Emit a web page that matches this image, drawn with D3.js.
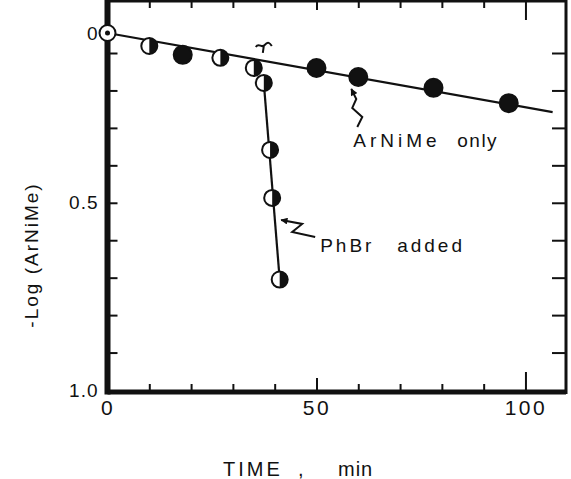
<!DOCTYPE html>
<html>
<head>
<meta charset="utf-8">
<script src="https://cdn.jsdelivr.net/npm/d3@7"></script>
<style>
body { margin: 0; background: #fff; }
text { font-family: "Liberation Sans", Arial, sans-serif; fill: #111; }
</style>
</head>
<body>
<script>
var width = 571, height = 479;

// ArNiMe only
var onlyTime = [0, 10, 18, 27, 35, 50, 60, 78, 96];
var onlyLog = [0, 0.065, 0.105, 0.113, 0.14, 0.14, 0.164, 0.193, 0.234];
var onlyMark = ["dot", "half", "full", "half", "half", "full", "full", "full", "full"];

// PhBr added
var addedTime = [37.4, 38.9, 39.4, 41.2];
var addedLog = [0.18, 0.359, 0.487, 0.705];
var addedMark = ["half", "half", "half", "half"];

// drawn lines
var onlyFitTime = [0, 106.5], onlyFitLog = [0, 0.258];
var addedFitTime = [37.4, 41.2], addedFitLog = [0.18, 0.705];

// ticks
var xTicks = [10, 20, 30, 40, 50, 60, 70, 80, 90, 100];
var yTicks = [0.1, 0.2, 0.3, 0.4, 0.5, 0.6, 0.7, 0.8, 0.9];
var xLabels = [0, 50, 100];
var yLabels = [0, 0.5, 1.0];
var yLabelText = ["0", "0.5", "1.0"];

var svg = d3.select("body")
    .append("svg")
    .attr("width", width)
    .attr("height", height);

var x = d3.scaleLinear().domain([0, 109.7]).range([107.5, 566]);
// scale is stretched between 0 and 0.1 like the original plot
var y = d3.scaleLinear().domain([0, 0.1, 1.0]).range([33, 53, 390]);

var left = x(0), right = x(109.7), top = 15, bottom = 392;

// frame
svg.append("line").attr("x1", left).attr("x2", left).attr("y1", top - 2.5).attr("y2", bottom + 2.5)
    .attr("stroke", "#111").attr("stroke-width", 6);
svg.append("line").attr("x1", left).attr("x2", right).attr("y1", top).attr("y2", top)
    .attr("stroke", "#111").attr("stroke-width", 5);
svg.append("line").attr("x1", left).attr("x2", right).attr("y1", bottom).attr("y2", bottom)
    .attr("stroke", "#111").attr("stroke-width", 5);
svg.append("line").attr("x1", right).attr("x2", right).attr("y1", top).attr("y2", bottom + 2)
    .attr("stroke", "#111").attr("stroke-width", 3);

function ticks(g) {
    g.select(".domain").remove();
    g.selectAll(".tick line").attr("stroke", "#111").attr("stroke-width", 2);
}

svg.append("g").attr("transform", "translate(0," + bottom + ")")
    .call(d3.axisBottom(x).tickValues(xTicks).tickSize(-8).tickFormat(""))
    .call(ticks)
    .selectAll(".tick line").attr("y2", function(d) { return d == 100 ? -20 : d == 50 ? -14 : -8; });

svg.append("g").attr("transform", "translate(0," + top + ")")
    .call(d3.axisTop(x).tickValues(xTicks).tickSize(-8).tickFormat(""))
    .call(ticks)
    .selectAll(".tick line").attr("y2", function(d) { return d == 100 ? 20 : d == 50 ? 10 : 8; });

svg.append("g").attr("transform", "translate(" + left + ",0)")
    .call(d3.axisLeft(y).tickValues(yTicks).tickSize(-10).tickFormat(""))
    .call(ticks);

svg.append("g").attr("transform", "translate(" + right + ",0)")
    .call(d3.axisRight(y).tickValues(yTicks).tickSize(-14).tickFormat(""))
    .call(ticks);

// tick labels
var yl = svg.append("g").attr("transform", "translate(" + left + ",0)")
    .call(d3.axisLeft(y).tickValues(yLabels).tickSize(0).tickPadding(9)
        .tickFormat(function(d, i) { return yLabelText[i]; }));
yl.select(".domain").remove();
yl.selectAll("text").attr("font-size", 19).attr("letter-spacing", 1).style("font-family", null);

var xl = svg.append("g").attr("transform", "translate(0," + bottom + ")")
    .call(d3.axisBottom(x).tickValues(xLabels).tickSize(0).tickPadding(8));
xl.select(".domain").remove();
xl.selectAll("text").attr("font-size", 21).attr("letter-spacing", 2.5).style("font-family", null);

// lines
var line = d3.line()
    .x(function(d) { return x(d[0]); })
    .y(function(d) { return y(d[1]); });

svg.append("path")
    .datum(d3.zip(onlyFitTime, onlyFitLog))
    .attr("d", line).attr("fill", "none").attr("stroke", "#111").attr("stroke-width", 2.2);
svg.append("path")
    .datum(d3.zip(addedFitTime, addedFitLog))
    .attr("d", line).attr("fill", "none").attr("stroke", "#111").attr("stroke-width", 2.2);

// markers
var points = d3.zip(onlyTime, onlyLog, onlyMark).concat(d3.zip(addedTime, addedLog, addedMark));
var halfArc = d3.arc().innerRadius(0).outerRadius(8).startAngle(0).endAngle(Math.PI);

var mark = svg.append("g").selectAll("g")
    .data(points)
    .enter().append("g")
    .attr("transform", function(d) { return "translate(" + x(d[0]) + "," + y(d[1]) + ")"; });

mark.append("circle")
    .attr("r", function(d) { return d[2] == "full" ? 9 : 8; })
    .attr("fill", function(d) { return d[2] == "full" ? "#111" : "#fff"; })
    .attr("stroke", "#111").attr("stroke-width", 2);
mark.filter(function(d) { return d[2] == "half"; })
    .append("path").attr("d", halfArc()).attr("fill", "#111");
mark.filter(function(d) { return d[2] == "dot"; })
    .append("circle").attr("r", 2.5).attr("fill", "#111");

// annotations
svg.append("defs").append("marker")
    .attr("id", "arrowhead")
    .attr("viewBox", "0 0 10 10")
    .attr("refX", 9).attr("refY", 5)
    .attr("markerWidth", 9).attr("markerHeight", 7)
    .attr("markerUnits", "userSpaceOnUse")
    .attr("orient", "auto")
    .append("path").attr("d", "M0,0 L10,5 L0,10 z").attr("fill", "#111");

var bx = x(addedFitTime[0]), by = y(addedFitLog[0]);
svg.append("path")
    .attr("d", "M" + (bx - 8) + "," + (by - 36) + " c3,-5 6,2 9,-2 s5,-2 7,1 M" + (bx) + "," + (by - 37) + " l-1,7")
    .attr("fill", "none").attr("stroke", "#111").attr("stroke-width", 2);

var ax = x(60), ay = y(0.164);
svg.append("path")
    .attr("d", "M" + (ax - 1) + "," + (ay + 50) + " l5,-10 l-10,-9 l4,-9 l-5,-10")
    .attr("fill", "none").attr("stroke", "#111").attr("stroke-width", 2)
    .attr("marker-end", "url(#arrowhead)");
svg.append("text").attr("x", ax - 5).attr("y", ay + 70).attr("font-size", 19).attr("letter-spacing", 4).text("ArNiMe");
svg.append("text").attr("x", ax + 99).attr("y", ay + 70).attr("font-size", 19).attr("letter-spacing", 1.5).text("only");

var px = x(addedTime[2]), py = y(addedLog[2]);
svg.append("path")
    .attr("d", "M" + (px + 43) + "," + (py + 39) + " l-23,-5 l10,-8 l-21,-4")
    .attr("fill", "none").attr("stroke", "#111").attr("stroke-width", 2)
    .attr("marker-end", "url(#arrowhead)");
svg.append("text").attr("x", px + 48).attr("y", py + 54).attr("font-size", 19).attr("letter-spacing", 3).text("PhBr");
svg.append("text").attr("x", px + 125).attr("y", py + 54).attr("font-size", 19).attr("letter-spacing", 3).text("added");

// axis titles
svg.append("text")
    .attr("transform", "translate(38,255) rotate(-90)")
    .attr("text-anchor", "middle")
    .attr("font-size", 19).attr("letter-spacing", 2)
    .text("-Log (ArNiMe)");
svg.append("text").attr("x", 223).attr("y", 476).attr("font-size", 20).attr("letter-spacing", 3).text("TIME");
svg.append("text").attr("x", 298).attr("y", 476).attr("font-size", 20).text(",");
svg.append("text").attr("x", 338).attr("y", 476).attr("font-size", 20).attr("letter-spacing", 1).text("min");
</script>
</body>
</html>
